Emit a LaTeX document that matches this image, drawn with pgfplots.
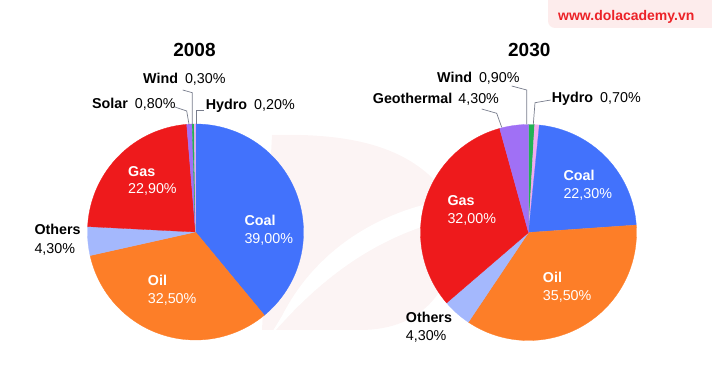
\documentclass[border=0pt]{standalone}
\usepackage{pgfplots}
\pgfplotsset{compat=1.18}
\usepackage{fontspec}
\setmainfont{Liberation Sans}
\definecolor{cCoal}{RGB}{66,114,252}
\definecolor{cOil}{RGB}{253,126,40}
\definecolor{cGas}{RGB}{238,26,28}
\definecolor{cOthers}{RGB}{164,184,253}
\definecolor{cPurple}{RGB}{160,112,245}
\definecolor{cWind}{RGB}{34,178,84}
\definecolor{cHydro}{RGB}{242,170,240}
\definecolor{cLead}{RGB}{120,125,140}
\definecolor{cLogoBg}{RGB}{253,236,236}
\definecolor{cLogo}{RGB}{236,34,40}
\definecolor{cMark}{RGB}{252,244,244}
\tikzset{lbl/.style={inner sep=0pt, font=\fontsize{14.3}{17}\selectfont}}
% slice: centre x, centre y, from (%), to (%), colour ; angles clockwise from 12 o'clock
\newcommand{\pieslice}[5]{%
  \addplot[draw=#5, line width=0.3pt, fill=#5, domain={#3*3.6}:{#4*3.6}, samples=80, variable=\t]
    ({#1+108*sin(\t)},{#2+108*cos(\t)}) -- (axis cs:#1,#2) -- cycle;}
\begin{document}
\begin{tikzpicture}
\useasboundingbox (0,0) rectangle (712pt,391pt);
\begin{axis}[at={(0,0)}, anchor=origin, width=712pt, height=391pt, scale only axis,
  xmin=0, xmax=712, ymin=0, ymax=391, hide axis, clip=false]
% logo
\fill[cLogoBg, rounded corners=7pt] (axis cs:548,363) rectangle (axis cs:730,400);
\node[lbl, anchor=base west, text=cLogo, font=\fontsize{14}{17}\selectfont\bfseries] at (axis cs:558,370.3) {www.dolacademy.vn};
% faint watermark
\fill[cMark] (axis cs:272,256) .. controls (axis cs:350,258) and (axis cs:405,245) .. (axis cs:440,205)
   -- (axis cs:440,100) .. controls (axis cs:420,70) and (axis cs:390,61) .. (axis cs:360,61) -- (axis cs:262,61) -- cycle;
\fill[white] (axis cs:268,52) .. controls (axis cs:330,125) and (axis cs:400,172) .. (axis cs:500,180)
   -- (axis cs:500,196) .. controls (axis cs:400,196) and (axis cs:320,150) .. (axis cs:282,75) -- cycle;
% ---- 2008 : Coal 39.0, Oil 32.5, Others 4.3, Gas 22.9, Solar 0.8, Wind 0.3, Hydro 0.2
\pieslice{195.5}{159}{0}{39.0}{cCoal}
\pieslice{195.5}{159}{39.0}{71.5}{cOil}
\pieslice{195.5}{159}{71.5}{75.8}{cOthers}
\pieslice{195.5}{159}{75.8}{98.7}{cGas}
\pieslice{195.5}{159}{98.7}{99.5}{cPurple}
\pieslice{195.5}{159}{99.5}{99.8}{cWind}
\pieslice{195.5}{159}{99.8}{100}{cHydro}
% ---- 2030 : Wind 0.9, Hydro 0.7, Coal 22.3, Oil 35.5, Others 4.3, Gas 32.0, Geothermal 4.3
\pieslice{528.5}{158.5}{0}{0.9}{cWind}
\pieslice{528.5}{158.5}{0.9}{1.6}{cHydro}
\pieslice{528.5}{158.5}{1.6}{23.9}{cCoal}
\pieslice{528.5}{158.5}{23.9}{59.4}{cOil}
\pieslice{528.5}{158.5}{59.4}{63.7}{cOthers}
\pieslice{528.5}{158.5}{63.7}{95.7}{cGas}
\pieslice{528.5}{158.5}{95.7}{100}{cPurple}
% titles
\node[lbl, anchor=base, font=\fontsize{19}{22}\selectfont\bfseries] at (axis cs:194.5,334.3) {2008};
\node[lbl, anchor=base, font=\fontsize{19}{22}\selectfont\bfseries] at (axis cs:529.3,334.3) {2030};
% leader lines
\draw[cLead, line width=0.7pt] (axis cs:182.7,301) -- (axis cs:192.3,298.3) -- (axis cs:192.3,266.7);
\draw[cLead, line width=0.7pt] (axis cs:174,284.3) -- (axis cs:186.7,280) -- (axis cs:189,266.7);
\draw[cLead, line width=0.7pt] (axis cs:204,281) -- (axis cs:196.7,281) -- (axis cs:196.7,266.7);
\draw[cLead, line width=0.7pt] (axis cs:511.7,305) -- (axis cs:526.7,301) -- (axis cs:526.7,266.7);
\draw[cLead, line width=0.7pt] (axis cs:481.7,282) -- (axis cs:496.7,277.7) -- (axis cs:501.7,263.7);
\draw[cLead, line width=0.7pt] (axis cs:550.7,291) -- (axis cs:535,288.3) -- (axis cs:533.3,266.7);
% outside labels 2008
\node[lbl, anchor=base west] at (axis cs:143,307.3) {\textbf{Wind}\hspace{7pt}0,30\%};
\node[lbl, anchor=base west] at (axis cs:92,282) {\textbf{Solar}\hspace{7pt}0,80\%};
\node[lbl, anchor=base west] at (axis cs:205.7,281) {\textbf{Hydro}\hspace{7pt}0,20\%};
\node[lbl, anchor=base west] at (axis cs:34.3,156.7) {\textbf{Others}};
\node[lbl, anchor=base west] at (axis cs:34.3,137.7) {4,30\%};
% inside labels 2008
\node[lbl, anchor=base west, text=white] at (axis cs:128,214.3) {\textbf{Gas}};
\node[lbl, anchor=base west, text=white] at (axis cs:128,197) {22,90\%};
\node[lbl, anchor=base west, text=white] at (axis cs:244.3,165.3) {\textbf{Coal}};
\node[lbl, anchor=base west, text=white] at (axis cs:244.3,147) {39,00\%};
\node[lbl, anchor=base west, text=white] at (axis cs:147.7,105.3) {\textbf{Oil}};
\node[lbl, anchor=base west, text=white] at (axis cs:147.7,87) {32,50\%};
% outside labels 2030
\node[lbl, anchor=base west] at (axis cs:437,308.7) {\textbf{Wind}\hspace{7pt}0,90\%};
\node[lbl, anchor=base west] at (axis cs:372.7,287) {\textbf{Geothermal}\hspace{6pt}4,30\%};
\node[lbl, anchor=base west] at (axis cs:551.7,288.3) {\textbf{Hydro}\hspace{7pt}0,70\%};
\node[lbl, anchor=base west] at (axis cs:405.7,68.7) {\textbf{Others}};
\node[lbl, anchor=base west] at (axis cs:405.7,50.3) {4,30\%};
% inside labels 2030
\node[lbl, anchor=base west, text=white] at (axis cs:563.3,210.3) {\textbf{Coal}};
\node[lbl, anchor=base west, text=white] at (axis cs:563.3,192.7) {22,30\%};
\node[lbl, anchor=base west, text=white] at (axis cs:447.3,185.3) {\textbf{Gas}};
\node[lbl, anchor=base west, text=white] at (axis cs:447.3,167.7) {32,00\%};
\node[lbl, anchor=base west, text=white] at (axis cs:542.7,108.3) {\textbf{Oil}};
\node[lbl, anchor=base west, text=white] at (axis cs:542.7,90.3) {35,50\%};
\end{axis}
\end{tikzpicture}
\end{document}
